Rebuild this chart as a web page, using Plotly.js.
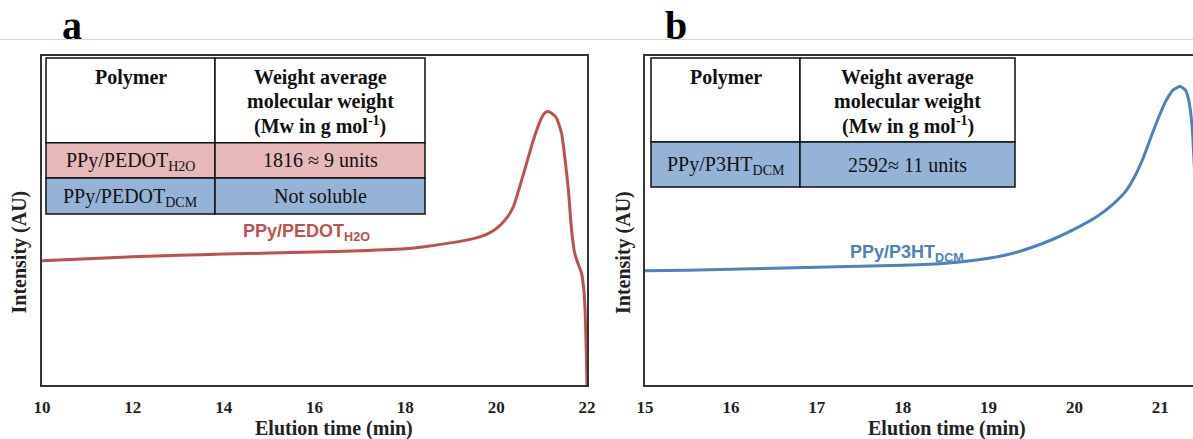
<!DOCTYPE html>
<html>
<head>
<meta charset="utf-8">
<script src="https://cdn.plot.ly/plotly-3.0.1.min.js"></script>
<style>html,body{margin:0;padding:0;background:#fff;}#chart{width:1193px;height:439px;}</style>
</head>
<body>
<div id="chart"></div>
<script>
// ---- Data ----
const timeA = [10.0, 11.0, 12.0, 13.0, 14.0, 15.0, 16.0, 17.0, 18.0, 18.5, 19.0, 19.5, 19.79, 20.01, 20.23, 20.38, 20.52, 20.67, 20.82, 20.96, 21.05, 21.13, 21.22, 21.33, 21.44, 21.51, 21.59, 21.66, 21.73, 21.80, 21.88, 21.93, 21.96, 21.98, 22.0];
const intensityA = [37.8, 38.4, 39.0, 39.4, 39.8, 40.1, 40.4, 40.8, 41.4, 42.2, 43.2, 44.5, 45.8, 47.6, 50.7, 54.2, 60.3, 67.4, 74.5, 80.0, 82.4, 83.1, 82.6, 81.1, 76.5, 69.4, 59.3, 47.1, 40.0, 37.0, 34.0, 28.9, 22.0, 12.0, 0.0];

const timeB = [15.0, 15.5, 16.0, 16.5, 17.0, 17.5, 18.0, 18.5, 19.0, 19.25, 19.5, 19.75, 20.0, 20.25, 20.45, 20.6, 20.7, 20.8, 20.9, 21.0, 21.07, 21.15, 21.23, 21.29, 21.33, 21.37, 21.40, 21.43];
const intensityB = [34.7, 34.9, 35.2, 35.5, 35.8, 36.1, 36.4, 37.0, 38.5, 39.8, 41.8, 44.3, 47.4, 51.0, 55.0, 59.0, 63.3, 69.0, 76.0, 82.6, 86.6, 89.7, 90.7, 89.7, 86.6, 78.5, 64.0, 52.0];

const ticksA = [10, 12, 14, 16, 18, 20, 22];
const ticksB = [15, 16, 17, 18, 19, 20, 21];

const tableHeader = ["Polymer", "Weight average", "molecular weight", "(Mw in g mol<sup>-1</sup>)"];
const tableA = [["PPy/PEDOT<sub>H2O</sub>", "1816 \u2248 9 units"], ["PPy/PEDOT<sub>DCM</sub>", "Not soluble"]];
const tableB = [["PPy/P3HT<sub>DCM</sub>", "2592\u2248 11 units"]];

const seriesLabelA = "PPy/PEDOT<sub>H2O</sub>";
const seriesLabelB = "PPy/P3HT<sub>DCM</sub>";

// ---- Layout helpers (pixel -> paper) ----
const W = 1193, H = 439, MT = 56, MB = 54;
const PH = H - MT - MB;
const px = x => x / W;
const py = y => (H - MB - y) / PH;

const serif = "Times New Roman, Liberation Serif, serif";
const sans = "Arial, Liberation Sans, sans-serif";
const red = "#c0504d", blue = "#4f81bd";
const pink = "#e6b8b7", lblue = "#95b3d7";
const frame = "#333333";

const traces = [
  {x: timeA, y: intensityA, type: "scatter", mode: "lines", xaxis: "x", yaxis: "y",
   line: {color: red, width: 3, shape: "spline", smoothing: 0.5}, hoverinfo: "skip"},
  {x: timeB, y: intensityB, type: "scatter", mode: "lines", xaxis: "x2", yaxis: "y2",
   line: {color: blue, width: 3, shape: "spline", smoothing: 0.5}, hoverinfo: "skip"}
];

const axisCommon = {
  showgrid: false, zeroline: false, showline: true, linecolor: frame, linewidth: 2,
  ticks: "", fixedrange: true
};

const shapes = [];
const annotations = [];

// top separator line
shapes.push({type: "line", xref: "paper", yref: "paper", x0: 0, x1: 1, y0: py(39.5), y1: py(39.5),
  line: {color: "#d4d4d4", width: 1}});

function rect(x0, x1, y0, y1, fill) {
  shapes.push({type: "rect", xref: "paper", yref: "paper", x0: px(x0), x1: px(x1), y0: py(y1), y1: py(y0),
    fillcolor: fill, line: {color: "#111", width: 1.5}, layer: "above"});
}
function txt(x, y, text, size, bold, color, extra) {
  annotations.push(Object.assign({xref: "paper", yref: "paper", x: px(x), y: py(y), text: bold ? "<b>" + text + "</b>" : text,
    showarrow: false, xanchor: "center", yanchor: "middle",
    font: {family: serif, size: size, color: color || "#111"}}, extra || {}));
}

function table(cols, rowsY, rows, fills) {
  rect(cols[0], cols[1], rowsY[0], rowsY[1], "#ffffff");
  rect(cols[1], cols[2], rowsY[0], rowsY[1], "#ffffff");
  const c1 = (cols[0] + cols[1]) / 2, c2 = (cols[1] + cols[2]) / 2;
  txt(c1, 78, tableHeader[0], 20, true);
  txt(c2, 78, tableHeader[1], 20, true);
  txt(c2, 102, tableHeader[2], 20, true);
  txt(c2, 126, tableHeader[3], 20, true);
  rows.forEach((r, i) => {
    const y0 = rowsY[i + 1], y1 = rowsY[i + 2];
    rect(cols[0], cols[1], y0, y1, fills[i]);
    rect(cols[1], cols[2], y0, y1, fills[i]);
    const yc = (y0 + y1) / 2;
    txt(c1, yc + 1, r[0], 20, false);
    txt(c2, yc, r[1], 20, false);
  });
}

table([46, 215, 425], [58, 142.7, 178, 214], tableA, [pink, lblue]);
table([651, 800, 1015], [58, 142, 187], tableB, [lblue]);

// series labels
annotations.push({xref: "paper", yref: "paper", x: px(241), y: py(232), text: "<b>" + seriesLabelA + "</b>",
  showarrow: false, xanchor: "left", yanchor: "middle", font: {family: sans, size: 18, color: red}});
annotations.push({xref: "paper", yref: "paper", x: px(848), y: py(253), text: "<b>" + seriesLabelB + "</b>",
  showarrow: false, xanchor: "left", yanchor: "middle", font: {family: sans, size: 18, color: blue}});

// panel letters
txt(72, 26, "a", 40, true, "#000");
txt(676, 26, "b", 40, true, "#000");

// axis titles
txt(18.5, 252, "Intensity (AU)", 20, true, "#222", {textangle: -90});
txt(623, 252, "Intensity (AU)", 20, true, "#222", {textangle: -90});
txt(334, 428, "Elution time (min)", 20, true, "#222");
txt(947, 428, "Elution time (min)", 20, true, "#222");

const tickFont = {family: serif, size: 17, color: "#222"};

const layout = {
  width: W, height: H,
  margin: {l: 0, r: 0, t: MT, b: MB, pad: 0},
  paper_bgcolor: "#ffffff", plot_bgcolor: "#ffffff",
  showlegend: false,
  xaxis: Object.assign({}, axisCommon, {domain: [px(42), px(587)], range: [10, 22], tickvals: ticksA,
    ticktext: ticksA.map(v => "<b>" + v + "</b>"), tickfont: tickFont, ticklabelstandoff: 6, mirror: true, anchor: "y"}),
  yaxis: Object.assign({}, axisCommon, {domain: [0, 1], range: [0, 100], showticklabels: false, mirror: true, anchor: "x"}),
  xaxis2: Object.assign({}, axisCommon, {domain: [px(645), 1], range: [15, 21.38], tickvals: ticksB,
    ticktext: ticksB.map(v => "<b>" + v + "</b>"), tickfont: tickFont, ticklabelstandoff: 6, mirror: true, anchor: "y2"}),
  yaxis2: Object.assign({}, axisCommon, {domain: [0, 1], range: [0, 100], showticklabels: false, mirror: false, anchor: "x2"}),
  shapes: shapes,
  annotations: annotations
};

Plotly.newPlot("chart", traces, layout, {displayModeBar: false, staticPlot: true});
</script>
</body>
</html>
